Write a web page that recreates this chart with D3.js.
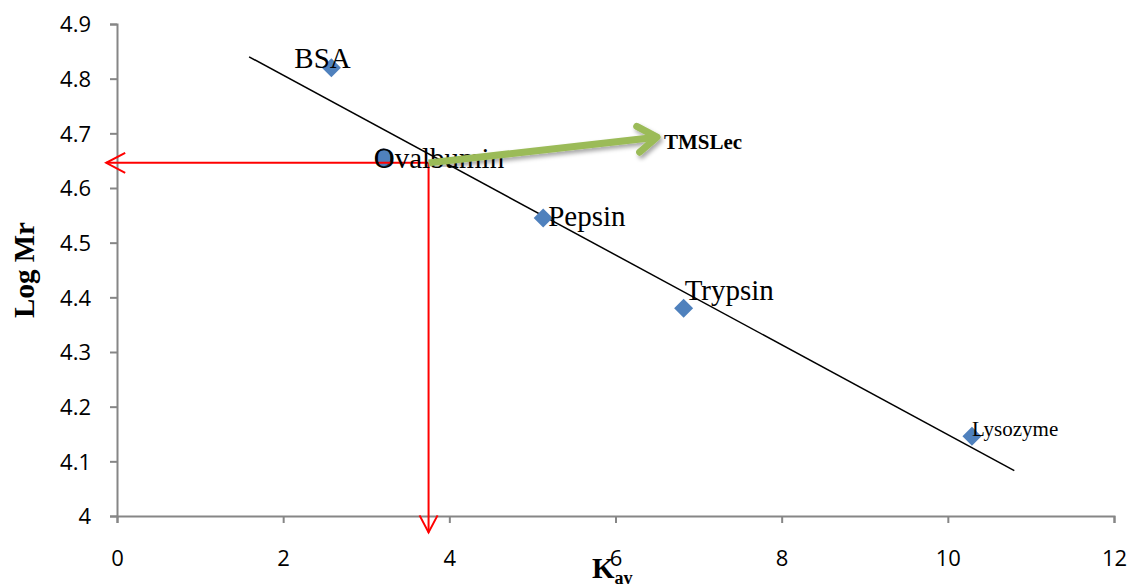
<!DOCTYPE html>
<html>
<head>
<meta charset="utf-8">
<script src="https://cdn.jsdelivr.net/npm/d3@7"></script>
<style>
  body { margin: 0; background: #fff; }
  svg { display: block; }
</style>
</head>
<body>
<div id="chart"></div>
<script>
(function () {
  'use strict';

  // Standards: Kav vs log Mr
  var proteins = ['BSA', 'Ovalbumin', 'Pepsin', 'Trypsin', 'Lysozyme'];
  var kav = [2.58, 3.21, 5.13, 6.82, 10.29];
  var logMr = [4.82, 4.655, 4.545, 4.38, 4.146];
  var labelSize = [29, 29, 29, 29, 21];

  // Fitted trend line end points
  var trendX = [1.59, 10.8];
  var trendY = [4.84, 4.083];

  // Unknown sample (TMSLec)
  var sampleKav = 3.75;
  var sampleLogMr = 4.646;
  var sampleLabel = 'TMSLec';
  var labelPoint = [6.5, 4.693];

  var xTicks = [0, 2, 4, 6, 8, 10, 12];
  var yTicks = [4, 4.1, 4.2, 4.3, 4.4, 4.5, 4.6, 4.7, 4.8, 4.9];

  var width = 1131, height = 587;
  var margin = { top: 24, right: 16, bottom: 71, left: 117 };

  var svg = d3.select('#chart').append('svg')
    .attr('width', width).attr('height', height);

  var x = d3.scaleLinear().domain([0, 12]).range([margin.left, width - margin.right - 1]);
  var y = d3.scaleLinear().domain([4, 4.9]).range([height - margin.bottom, margin.top]);

  var serif = '"Liberation Serif", "Times New Roman", serif';

  var defs = svg.append('defs');
  defs.append('filter').attr('id', 'shadow')
    .append('feDropShadow')
    .attr('dx', 2).attr('dy', 3).attr('stdDeviation', 2)
    .attr('flood-color', '#000').attr('flood-opacity', 0.35);

  // Axes
  var axisColor = '#868686';
  var xAxis = svg.append('g')
    .attr('transform', 'translate(0,' + y(4) + ')')
    .call(d3.axisBottom(x).tickValues(xTicks).tickSize(7).tickFormat(d3.format('d')));
  var yAxis = svg.append('g')
    .attr('transform', 'translate(' + x(0) + ',0)')
    .call(d3.axisLeft(y).tickValues(yTicks).tickSize(7)
      .tickFormat(function (d) { return d === 4 ? '4' : d3.format('.1f')(d); }));

  [xAxis, yAxis].forEach(function (g) {
    g.select('.domain').attr('stroke', axisColor).attr('stroke-width', 2);
    g.selectAll('.tick line').attr('stroke', axisColor).attr('stroke-width', 2);
    g.selectAll('.tick text')
      .attr('fill', '#000')
      .style('font-family', '"Open Sans", "Liberation Sans", sans-serif')
      .style('font-size', '22px');
  });
  xAxis.selectAll('.tick text').attr('y', 42).attr('dy', '0.36em');
  yAxis.selectAll('.tick text').attr('x', -26).attr('dy', '0.36em');

  // Trend line
  svg.append('line')
    .attr('x1', x(trendX[0])).attr('y1', y(trendY[0]))
    .attr('x2', x(trendX[1])).attr('y2', y(trendY[1]))
    .attr('stroke', '#000').attr('stroke-width', 1.5);

  // Markers
  var pts = proteins.map(function (p, i) {
    return { name: p, x: kav[i], y: logMr[i], size: labelSize[i] };
  });

  pts.forEach(function (d) {
    if (d.name === 'Ovalbumin') {
      svg.append('ellipse')
        .attr('cx', x(d.x)).attr('cy', y(d.y))
        .attr('rx', 7.5).attr('ry', 9)
        .attr('fill', '#4f81bd').attr('stroke', '#1f2f4a').attr('stroke-width', 1.5);
    } else {
      svg.append('path')
        .attr('transform', 'translate(' + x(d.x) + ',' + y(d.y) + ')')
        .attr('d', 'M0,-9.5L9.5,0L0,9.5L-9.5,0Z')
        .attr('fill', '#4f81bd');
    }
  });

  // Red read-off arrows
  var red = '#ff0000';
  var sx = x(sampleKav), sy = y(sampleLogMr);
  var leftTip = x(-0.13), bottomTip = y(3.97);
  svg.append('line').attr('x1', sx).attr('y1', sy).attr('x2', leftTip).attr('y2', sy)
    .attr('stroke', red).attr('stroke-width', 2);
  svg.append('path')
    .attr('d', 'M' + (leftTip + 19) + ',' + (sy - 10) + 'L' + leftTip + ',' + sy + 'L' + (leftTip + 19) + ',' + (sy + 10))
    .attr('fill', 'none').attr('stroke', red).attr('stroke-width', 2);
  svg.append('line').attr('x1', sx).attr('y1', sy).attr('x2', sx).attr('y2', bottomTip)
    .attr('stroke', red).attr('stroke-width', 2);
  svg.append('path')
    .attr('d', 'M' + (sx - 9) + ',' + (bottomTip - 17) + 'L' + sx + ',' + bottomTip + 'L' + (sx + 9) + ',' + (bottomTip - 17))
    .attr('fill', 'none').attr('stroke', red).attr('stroke-width', 2);

  // Labels
  var offsets = {
    BSA: [-37, 0],
    Ovalbumin: [-10, 10],
    Pepsin: [5, 8],
    Trypsin: [1, -8],
    Lysozyme: [0, 0]
  };
  svg.selectAll('text.plabel')
    .data(pts)
    .enter().append('text')
    .attr('class', 'plabel')
    .attr('x', function (d) { return x(d.x) + offsets[d.name][0]; })
    .attr('y', function (d) { return y(d.y) + offsets[d.name][1]; })
    .style('font-family', serif)
    .style('font-size', function (d) { return d.size + 'px'; })
    .attr('fill', '#000')
    .text(function (d) { return d.name; });

  // Green arrow to TMSLec
  var gx1 = sx, gy1 = sy, gx2 = x(labelPoint[0]), gy2 = y(labelPoint[1]);
  var ang = Math.atan2(gy2 - gy1, gx2 - gx1);
  var hl = 23, hw = 0.6;
  var g = svg.append('g').attr('filter', 'url(#shadow)');
  g.append('line')
    .attr('x1', gx1).attr('y1', gy1).attr('x2', gx2 - 3 * Math.cos(ang)).attr('y2', gy2 - 3 * Math.sin(ang))
    .attr('stroke', '#9bbb59').attr('stroke-width', 7);
  g.append('path')
    .attr('d', 'M' + (gx2 - hl * Math.cos(ang - hw)) + ',' + (gy2 - hl * Math.sin(ang - hw)) +
      'L' + gx2 + ',' + gy2 +
      'L' + (gx2 - hl * Math.cos(ang + hw)) + ',' + (gy2 - hl * Math.sin(ang + hw)))
    .attr('fill', 'none').attr('stroke', '#9bbb59').attr('stroke-width', 7)
    .attr('stroke-linecap', 'round').attr('stroke-linejoin', 'round');

  svg.append('text')
    .attr('x', gx2 + 7).attr('y', gy2 + 12)
    .style('font-family', serif)
    .style('font-size', '21px').style('font-weight', 'bold')
    .text(sampleLabel);

  // Axis titles
  svg.append('text')
    .attr('transform', 'translate(34,' + 270 + ') rotate(-90)')
    .attr('text-anchor', 'middle')
    .style('font-family', serif)
    .style('font-size', '29px').style('font-weight', 'bold')
    .text('Log Mr');

  var xt = svg.append('text')
    .attr('x', 592).attr('y', 578)
    .style('font-family', serif)
    .style('font-size', '29px').style('font-weight', 'bold');
  xt.append('tspan').text('K');
  xt.append('tspan').attr('dy', 6).style('font-size', '18px').text('av');
})();
</script>
</body>
</html>
